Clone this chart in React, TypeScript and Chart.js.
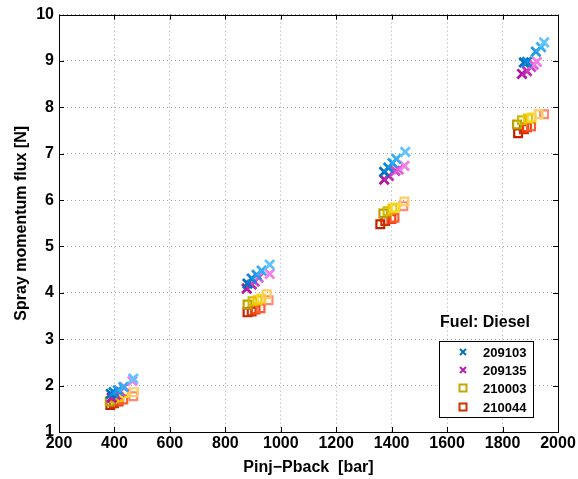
import React, { useEffect, useRef } from "react";
import { Chart, registerables } from "chart.js";

Chart.register(...registerables);

// Injection pressure difference [bar] and spray momentum flux [N] per nozzle
const nozzle209103X = [387, 397, 412, 432, 468, 880, 895, 913, 931, 960, 1373, 1388, 1403, 1417, 1449, 1877, 1888, 1920, 1939, 1950];
const nozzle209103Y = [1.82, 1.86, 1.9, 1.97, 2.15, 4.2, 4.31, 4.39, 4.48, 4.61, 6.61, 6.7, 6.8, 6.89, 7.04, 8.97, 8.98, 9.2, 9.3, 9.4];

const nozzle209135X = [390, 405, 420, 435, 465, 877, 895, 906, 920, 960, 1373, 1390, 1413, 1425, 1446, 1870, 1888, 1903, 1912, 1924];
const nozzle209135Y = [1.74, 1.8, 1.87, 1.97, 2.1, 4.09, 4.18, 4.24, 4.33, 4.41, 6.44, 6.52, 6.63, 6.66, 6.74, 8.72, 8.78, 8.87, 8.92, 8.98];

const nozzle210003X = [383, 400, 418, 435, 470, 880, 898, 916, 930, 949, 1370, 1385, 1403, 1413, 1446, 1852, 1870, 1892, 1905, 1930];
const nozzle210003Y = [1.66, 1.72, 1.76, 1.84, 1.86, 3.75, 3.82, 3.84, 3.88, 3.97, 5.71, 5.76, 5.82, 5.84, 5.97, 7.63, 7.72, 7.76, 7.78, 7.85];

const nozzle210044X = [385, 398, 415, 432, 468, 880, 895, 909, 927, 956, 1359, 1377, 1399, 1410, 1442, 1856, 1877, 1888, 1903, 1950];
const nozzle210044Y = [1.58, 1.62, 1.66, 1.7, 1.77, 3.58, 3.6, 3.64, 3.67, 3.84, 5.48, 5.55, 5.59, 5.62, 5.87, 7.44, 7.53, 7.57, 7.59, 7.85];

const seriesNames = ["209103", "209135", "210003", "210044"];
const legendTitle = "Fuel: Diesel";
const xTitle = "Pinj\u2212Pback  [bar]";
const yTitle = "Spray momentum flux [N]";

// Shades run from the base colour (lowest pressure in a group) to the lightest
const shades209103 = ["#0070C0", "#0A86D6", "#1E9AE8", "#35AEF6", "#60C4FF"];
const shades209135 = ["#B0149E", "#C22AB6", "#D240C8", "#E25CD8", "#F27EE6"];
const shades210003 = ["#BCA000", "#D4B800", "#EAC800", "#F8D820", "#FFCC66"];
const shades210044 = ["#C02000", "#D63000", "#EE4210", "#FF5A30", "#FF8A72"];
const legendColors = ["#0072BD", "#B81DB5", "#C8A800", "#CC3300"];

const FONT = "'Liberation Sans', Arial, Helvetica, sans-serif";

const toPoints = (xs: number[], ys: number[]) => xs.map((x, i) => ({ x, y: ys[i] }));
const shadeList = (xs: number[], shades: string[]) => xs.map((_, i) => shades[i % shades.length]);

const framePlugin = {
  id: "frame",
  afterDraw(chart: any) {
    const { ctx, chartArea } = chart;
    const { left, right, top, bottom } = chartArea;
    const xs = chart.scales.x;
    const ys = chart.scales.y;
    ctx.save();
    // box
    ctx.strokeStyle = "#000";
    ctx.lineWidth = 1;
    ctx.strokeRect(Math.round(left) + 0.5, Math.round(top) + 0.5, Math.round(right - left), Math.round(bottom - top));
    // inward tick marks on all four sides
    const tl = 5;
    ctx.beginPath();
    xs.ticks.forEach((t: any) => {
      const px = Math.round(xs.getPixelForValue(t.value)) + 0.5;
      ctx.moveTo(px, bottom);
      ctx.lineTo(px, bottom - tl);
      ctx.moveTo(px, top);
      ctx.lineTo(px, top + tl);
    });
    ys.ticks.forEach((t: any) => {
      const py = Math.round(ys.getPixelForValue(t.value)) + 0.5;
      ctx.moveTo(left, py);
      ctx.lineTo(left + tl, py);
      ctx.moveTo(right, py);
      ctx.lineTo(right - tl, py);
    });
    ctx.stroke();

    // axis titles
    ctx.fillStyle = "#000";
    ctx.font = `bold 16px ${FONT}`;
    ctx.textAlign = "center";
    ctx.textBaseline = "middle";
    ctx.fillText(xTitle, (left + right) / 2, 468);
    ctx.save();
    ctx.translate(22, (top + bottom) / 2);
    ctx.rotate(-Math.PI / 2);
    ctx.fillText(yTitle, 0, 0);
    ctx.restore();

    // legend title
    ctx.font = `bold 16px ${FONT}`;
    ctx.fillText(legendTitle, 485, 323);

    // legend box
    const bx = 439, by = 341, bw = 94, bh = 76;
    ctx.fillStyle = "#fff";
    ctx.fillRect(bx, by, bw, bh);
    ctx.strokeStyle = "#000";
    ctx.lineWidth = 1;
    ctx.strokeRect(bx + 0.5, by + 0.5, bw, bh);
    const rowY = [352, 370, 388, 407];
    ctx.font = `bold 13px ${FONT}`;
    ctx.textAlign = "left";
    seriesNames.forEach((name, i) => {
      const cy = rowY[i];
      const cx = 463;
      ctx.strokeStyle = legendColors[i];
      ctx.lineWidth = 2;
      ctx.beginPath();
      if (i < 2) {
        const s = 3;
        ctx.moveTo(cx - s, cy - s);
        ctx.lineTo(cx + s, cy + s);
        ctx.moveTo(cx + s, cy - s);
        ctx.lineTo(cx - s, cy + s);
      } else {
        ctx.rect(cx - 3.5, cy - 3.5, 7, 7);
      }
      ctx.stroke();
      ctx.fillStyle = "#000";
      ctx.fillText(name, 483, cy + 1);
    });
    ctx.restore();
  },
};

export default function App() {
  const canvasRef = useRef<HTMLCanvasElement | null>(null);

  useEffect(() => {
    if (!canvasRef.current) return;
    const crossStyle = { pointStyle: "crossRot", pointRadius: 6.5, pointBorderWidth: 2.8, showLine: false };
    const squareStyle = { pointStyle: "rect", pointRadius: 5.5, pointBorderWidth: 2.2, showLine: false, pointBackgroundColor: "rgba(0,0,0,0)" };
    const plainTick = (v: any) => String(v);
    const chart = new Chart(canvasRef.current, {
      type: "scatter",
      data: {
        datasets: [
          { label: seriesNames[0], data: toPoints(nozzle209103X, nozzle209103Y), pointBorderColor: shadeList(nozzle209103X, shades209103), ...crossStyle },
          { label: seriesNames[1], data: toPoints(nozzle209135X, nozzle209135Y), pointBorderColor: shadeList(nozzle209135X, shades209135), ...crossStyle },
          { label: seriesNames[2], data: toPoints(nozzle210003X, nozzle210003Y), pointBorderColor: shadeList(nozzle210003X, shades210003), ...squareStyle },
          { label: seriesNames[3], data: toPoints(nozzle210044X, nozzle210044Y), pointBorderColor: shadeList(nozzle210044X, shades210044), ...squareStyle },
        ] as any,
      },
      options: {
        animation: false,
        responsive: false,
        maintainAspectRatio: false,
        layout: { padding: { top: 10, right: 20, left: 0, bottom: 0 } },
        plugins: { legend: { display: false }, tooltip: { enabled: false } },
        scales: {
          x: {
            type: "linear",
            min: 200,
            max: 2000,
            ticks: { stepSize: 200, color: "#000", font: { family: FONT, size: 16, weight: "bold" }, padding: 2, maxRotation: 0, callback: plainTick },
            grid: { drawTicks: false, tickLength: 0, color: "#a8a8a8", lineWidth: 1 },
            border: { display: false, dash: [1, 3] },
            afterFit: (s: any) => { s.height = 47; },
          },
          y: {
            type: "linear",
            min: 1,
            max: 10,
            ticks: { stepSize: 1, color: "#000", font: { family: FONT, size: 16, weight: "bold" }, padding: 5, callback: plainTick },
            grid: { drawTicks: false, tickLength: 0, color: "#a8a8a8", lineWidth: 1 },
            border: { display: false, dash: [1, 3] },
            afterFit: (s: any) => { s.width = 59; },
          },
        },
      } as any,
      plugins: [framePlugin],
    });
    return () => chart.destroy();
  }, []);

  return (
    <div style={{ position: "fixed", left: 0, top: 0, width: 578, height: 479, background: "#fff" }}>
      <canvas ref={canvasRef} width={578} height={479} style={{ width: 578, height: 479, display: "block" }} />
    </div>
  );
}
